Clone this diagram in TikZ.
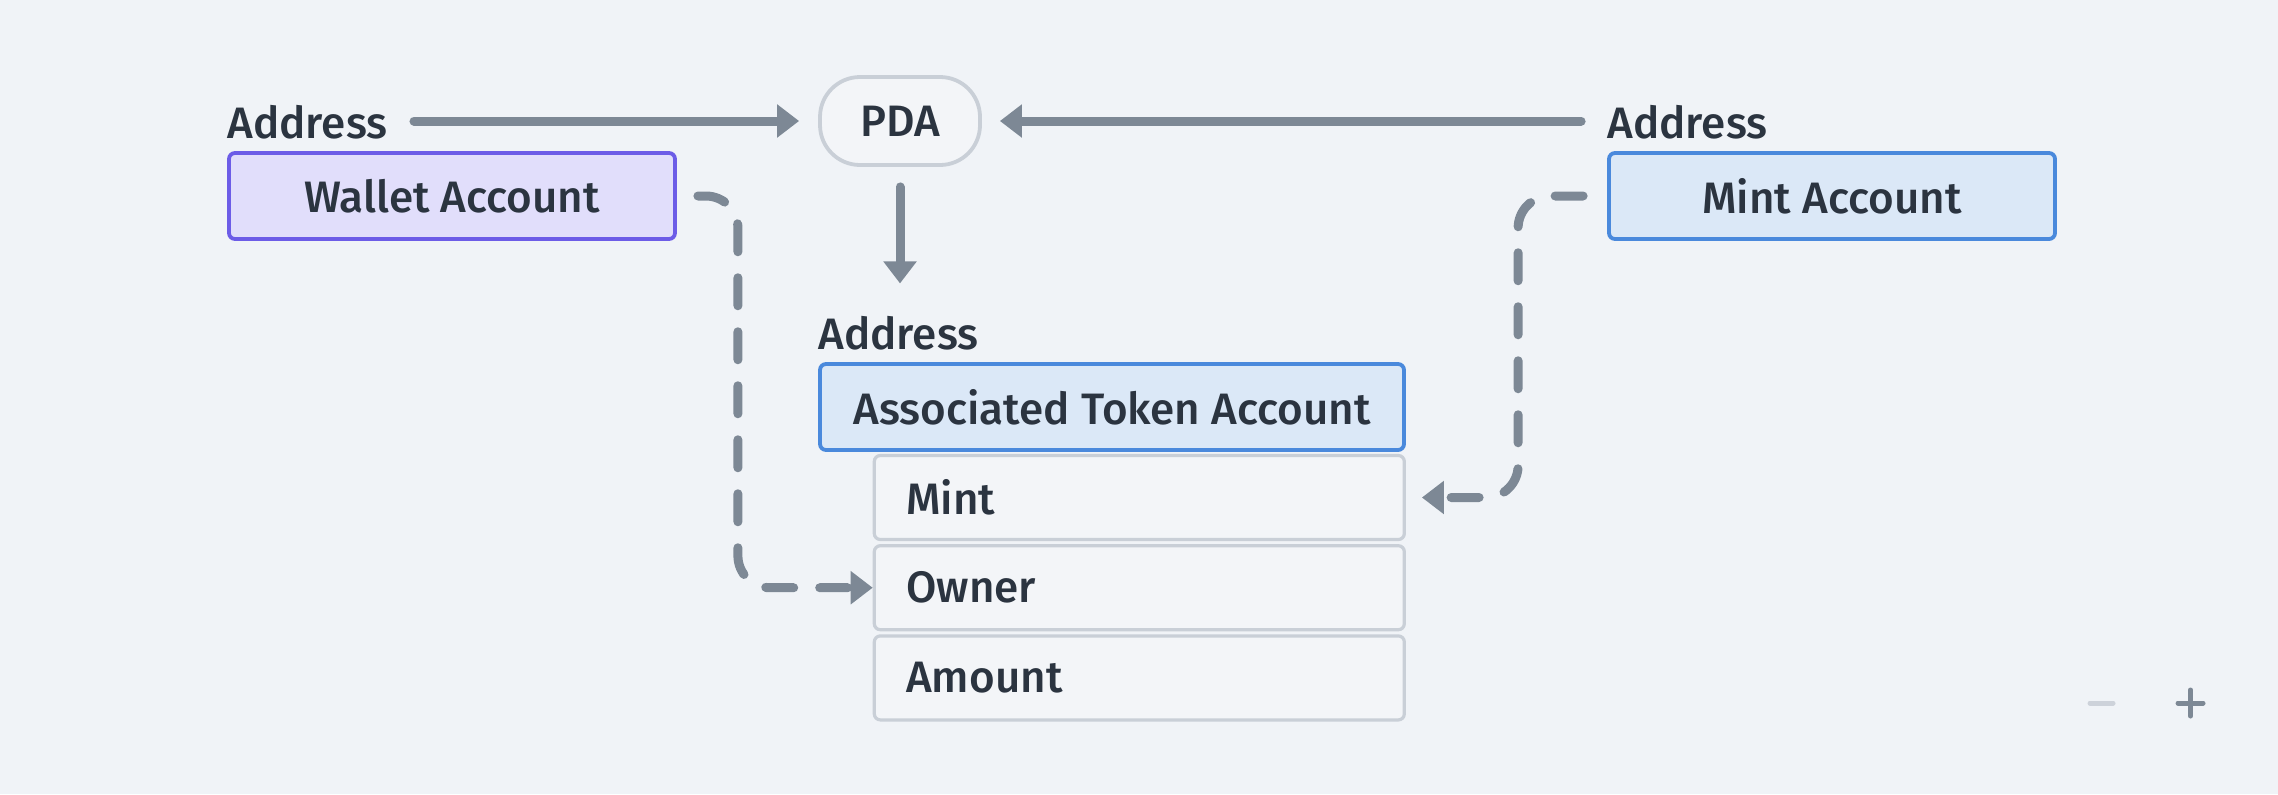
\documentclass[tikz,border=0pt]{standalone}
\usepackage{fontspec}
\setmainfont{Fira Sans}[UprightFont=* Medium]
\usetikzlibrary{arrows.meta,positioning,calc}
\definecolor{canvas}{HTML}{F0F3F7}
\definecolor{ink}{HTML}{2B3440}
\definecolor{linkgray}{HTML}{7D8895}
\definecolor{walletfill}{HTML}{E1DEFB}
\definecolor{walletline}{HTML}{6C5CE7}
\definecolor{mintfill}{HTML}{DBE8F7}
\definecolor{mintline}{HTML}{4A89DC}
\definecolor{pdafill}{HTML}{F3F5F8}
\definecolor{fieldline}{HTML}{C9CFD7}
\definecolor{zoomgray}{HTML}{CDD2DA}
\tikzset{
    label/.style={inner sep=0pt, text=ink, font=\fontsize{22}{26}\selectfont},
    account/.style={draw, rounded corners=3pt, line width=1.9pt, minimum height=43pt, text=ink, font=\fontsize{22}{26}\selectfont},
    wallet/.style={account, fill=walletfill, draw=walletline, minimum width=223pt},
    mintacc/.style={account, fill=mintfill, draw=mintline, minimum width=223pt},
    pda/.style={account, fill=pdafill, draw=fieldline, rounded corners=20pt, minimum width=80pt, minimum height=44pt},
    field/.style={account, fill=pdafill, draw=fieldline, line width=1.6pt, text width=233pt, align=left, inner xsep=16pt, minimum height=42pt},
    link/.style={-{Triangle[length=11pt, width=16pt]}, line width=4.5pt, draw=linkgray, line cap=round},
    reflink/.style={link, dash pattern=on 14pt off 13pt, rounded corners=16pt}
}

\begin{document}
\begin{tikzpicture}[x=0.5pt, y=-0.5pt]
    \fill[canvas] (0,0) rectangle (2278,794);
    % accounts
    \node[wallet] (wallet) at (452,196) {Wallet Account};
    \node[mintacc] (mint) at (1832,196) {Mint Account};
    \node[pda] (pda) at (900,121) {PDA};
    \node[mintacc, minimum width=292pt] (ata) at (1112,407) {Associated Token Account};
    \node[label, above right=6pt and 0pt of wallet.north west] (addrW) {Address};
    \node[label, above right=6pt and 0pt of mint.north west] (addrM) {Address};
    \node[label, above right=6pt and 0pt of ata.north west] (addrA) {Address};
    % fields of the token account
    \node[field, below left=1pt and 0pt of ata.south east] (mintF) {Mint};
    \node[field, below=1.5pt of mintF] (ownerF) {Owner};
    \node[field, below=1.5pt of ownerF] (amountF) {Amount};
    % derivation
    \draw[link, shorten <=13pt, shorten >=9.5pt] (addrW.east |- pda.west) -- (pda.west);
    \draw[link, shorten <=13pt, shorten >=9pt] (addrM.west |- pda.east) -- (pda.east);
    \draw[link, shorten <=10pt, shorten >=16pt] (pda.south) -- (pda.south |- addrA.north);
    % references
    \draw[reflink, shorten <=10.5pt] (wallet.east) -- ++(61,0) |- (ownerF.west);
    \draw[reflink, shorten <=12pt, shorten >=8pt] (mint.west) -- ++(-89,0) |- (mintF.east);
    % zoom controls
    \draw[line width=2.5pt, line cap=round, zoomgray] (2090,703) -- (2113,703);
    \draw[line width=2.5pt, line cap=round, linkgray] (2178,703) -- (2203,703) (2190.5,690) -- (2190.5,716);
\end{tikzpicture}
\end{document}
